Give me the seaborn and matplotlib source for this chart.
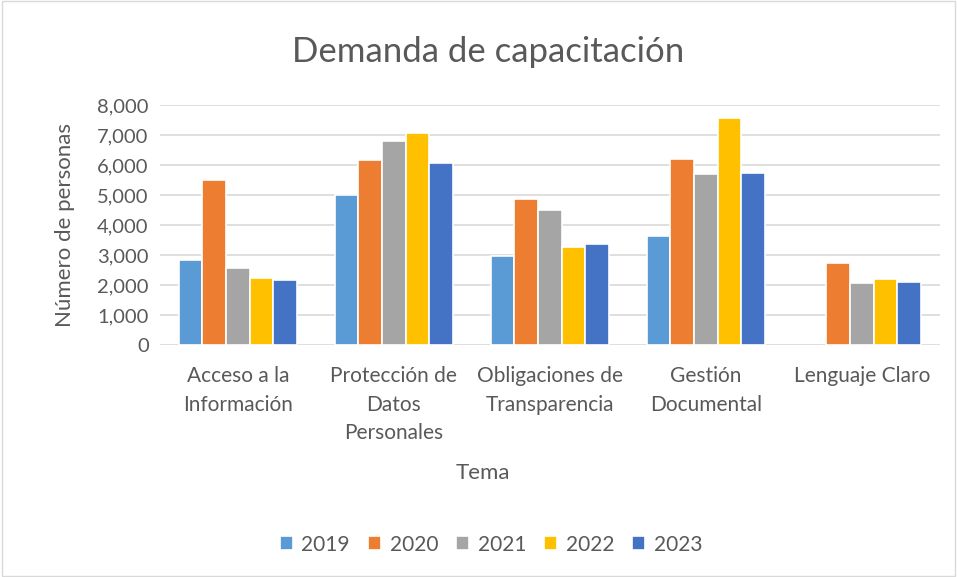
import pandas as pd
import numpy as np
import seaborn as sns
import matplotlib.pyplot as plt

temas = ['Acceso a la\nInformación', 'Protección de\nDatos\nPersonales',
         'Obligaciones de\nTransparencia', 'Gestión\nDocumental', 'Lenguaje Claro']
years = ['2019', '2020', '2021', '2022', '2023']
v2019 = [2830, 5000, 2980, 3630, np.nan]
v2020 = [5500, 6180, 4860, 6190, 2730]
v2021 = [2560, 6790, 4500, 5690, 2060]
v2022 = [2240, 7070, 3280, 7580, 2200]
v2023 = [2170, 6060, 3360, 5740, 2090]
colores = ['#5B9BD5', '#ED7D31', '#A5A5A5', '#FFC000', '#4472C4']

rows = []
for y, vals in zip(years, [v2019, v2020, v2021, v2022, v2023]):
    for t, v in zip(temas, vals):
        rows.append({'Tema': t, 'Año': y, 'Personas': v})
df = pd.DataFrame(rows)

sns.set_style('white')
plt.rcParams['font.family'] = ['Lato', 'DejaVu Sans']
txt = '#595959'

fig = plt.figure(figsize=(9.57, 5.77), dpi=100)
ax = fig.add_axes([0.167, 0.402, 0.815, 0.416])
sns.barplot(data=df, x='Tema', y='Personas', hue='Año', palette=colores, saturation=1,
            width=0.76, edgecolor='white', linewidth=1.2, ax=ax)

ax.set_ylim(0, 8000)
ax.set_yticks(np.arange(0, 8001, 1000))
ax.set_yticklabels([f'{int(v):,}' for v in np.arange(0, 8001, 1000)])
ax.yaxis.grid(True, color='#D9D9D9', linewidth=1.2)
ax.set_axisbelow(True)
for s in ax.spines.values():
    s.set_visible(False)
ax.tick_params(axis='y', length=0, labelsize=14.5, colors=txt, pad=8)
ax.tick_params(axis='x', length=0, labelsize=15, colors=txt, pad=15)
for lab in ax.get_xticklabels():
    lab.set_linespacing(1.55)

fig.text(0.51, 0.91, 'Demanda de capacitación', fontsize=25, color=txt, ha='center', va='center')
ax.set_ylabel('Número de personas', fontsize=16, color=txt, labelpad=16)
ax.set_xlabel('')
fig.text(0.505, 0.18, 'Tema', fontsize=16, color=txt, ha='center', va='center')

ax.legend(loc='center', bbox_to_anchor=(0.513, 0.056), bbox_transform=fig.transFigure,
          ncol=5, frameon=False, fontsize=15, labelcolor=txt,
          handlelength=0.65, handleheight=0.65, handletextpad=0.4, columnspacing=0.85)

fig.patches.append(plt.Rectangle((0.002, 0.002), 0.996, 0.996, transform=fig.transFigure,
                                 fill=False, edgecolor='#D9D9D9', linewidth=1))

plt.savefig('out.png', dpi=100)
